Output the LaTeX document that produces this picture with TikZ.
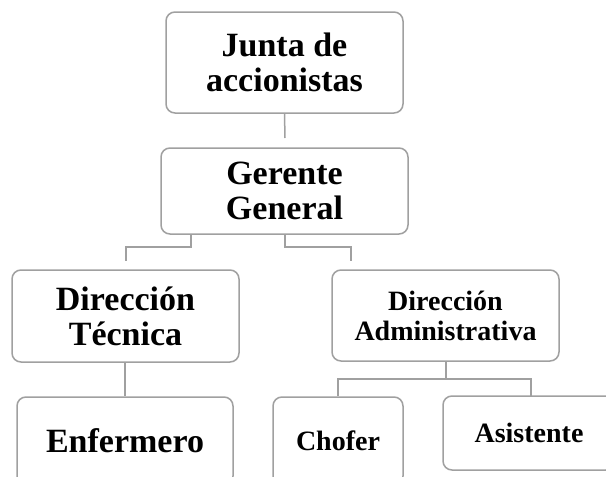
\documentclass[tikz,border=0pt]{standalone}
\usepackage{fontspec}
\setmainfont{Liberation Serif}
\begin{document}
\begin{tikzpicture}[x=1pt,y=-1pt,
  box/.style={draw=boxgray, line width=1.5pt, rounded corners=9pt, fill=white,
    align=center, inner sep=0pt, font=\bfseries\fontsize{34}{35}\selectfont},
  smallbox/.style={box, font=\bfseries\fontsize{28}{30}\selectfont},
  conn/.style={draw=boxgray, line width=1.5pt}]
\definecolor{boxgray}{RGB}{160,160,160}
\useasboundingbox (0,0) rectangle (606,477);
\fill[white] (0,0) rectangle (606,477);
\clip (0,0) rectangle (606,477);
% nodes
\node[box, minimum width=237pt, minimum height=101pt] (junta) at (284.5,62.5) {Junta de\\accionistas};
\node[box, minimum width=247pt, minimum height=86pt] (gerente) at (284.5,191) {Gerente\\General};
\node[box, minimum width=227pt, minimum height=92pt] (dt) at (125.5,316) {Dirección\\Técnica};
\node[smallbox, minimum width=227pt, minimum height=91pt] (da) at (445.5,315.5) {Dirección\\Administrativa};
\node[box, minimum width=216pt, minimum height=88pt] (enf) at (125,441) {Enfermero};
\node[smallbox, minimum width=130pt, minimum height=88pt] (chofer) at (338,441) {Chofer};
\node[smallbox, minimum width=172pt, minimum height=74pt] (asis) at (529,433) {Asistente};
% free ends
\coordinate (jg) at (285,138);
\coordinate (gdt) at (126,261);
\coordinate (gda) at (351,261);
\coordinate (dach) at (338,396);
\coordinate (daas) at (531,396);
% connectors
\draw[conn] (junta.south) -- (jg);
\draw[conn] (191,0 |- gerente.south) -- (191,247) -| (gdt);
\draw[conn] (285,0 |- gerente.south) -- (285,247) -| (gda);
\draw[conn] (125,0 |- dt.south) -- (125,0 |- enf.north);
\draw[conn] (446,0 |- da.south) -- (446,379);
\draw[conn] (dach) -- (338,379) -- (531,379) -- (daas);
\end{tikzpicture}
\end{document}
